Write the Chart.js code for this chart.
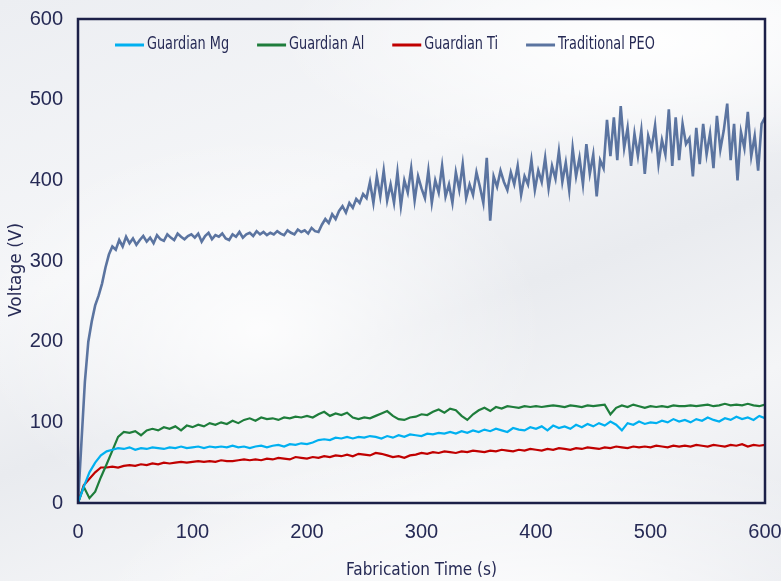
<!DOCTYPE html>
<html>
<head>
<meta charset="utf-8">
<script src="https://cdn.jsdelivr.net/npm/chart.js@4.4.1/dist/chart.umd.min.js"></script>
<style>
  html, body { margin: 0; padding: 0; overflow: hidden; }
  body {
    width: 781px; height: 581px;
    background:
      radial-gradient(ellipse 520px 180px at 640px 40px, rgba(255,255,255,0.95), rgba(255,255,255,0) 70%),
      radial-gradient(ellipse 620px 260px at 520px 620px, rgba(255,255,255,0.9), rgba(255,255,255,0) 70%),
      radial-gradient(ellipse 380px 260px at 260px 330px, rgba(255,255,255,0.85), rgba(255,255,255,0) 75%),
      linear-gradient(160deg, #eceef2 0%, #f5f6f8 35%, #e9ebef 55%, #f4f5f7 75%, #e6e8ed 100%);
  }
  #wrap { position: absolute; left: 0; top: 0; width: 781px; height: 581px; }
</style>
</head>
<body>
<div id="wrap"><canvas id="voltChart" width="781" height="581"></canvas></div>
<script>
// sampling times (s)
const guardianTime = [
  0,5,10,15,20,25,30,35,40,45,50,55,60,65,70,75,80,85,90,95,
  100,105,110,115,120,125,130,135,140,145,150,155,160,165,170,175,180,185,190,195,
  200,205,210,215,220,225,230,235,240,245,250,255,260,265,270,275,280,285,290,295,
  300,305,310,315,320,325,330,335,340,345,350,355,360,365,370,375,380,385,390,395,
  400,405,410,415,420,425,430,435,440,445,450,455,460,465,470,475,480,485,490,495,
  500,505,510,515,520,525,530,535,540,545,550,555,560,565,570,575,580,585,590,595,
  600
];

const guardianMg = [
  0,20,38,50,59,64,66,68,67,69,66,68,67,69,68,67,69,68,70,68,
  69,70,68,70,69,70,69,71,69,70,68,70,71,69,71,72,70,73,72,74,
  73,75,78,79,78,81,80,82,80,82,81,83,82,80,83,81,84,82,85,84,
  83,86,85,87,86,88,86,89,87,90,88,91,89,92,90,88,93,91,90,94,
  92,95,90,96,93,95,92,97,94,98,95,99,96,101,97,90,99,97,101,98,
  100,99,102,100,104,101,103,100,104,102,106,103,101,105,103,107,104,106,103,108,
  105
];

const guardianAl = [
  0,20,6,14,32,48,65,82,88,87,89,84,90,92,90,94,92,95,90,96,
  94,97,95,99,97,100,98,102,99,103,105,102,106,104,105,103,106,105,107,106,
  108,106,110,113,108,111,109,112,106,104,106,105,108,111,114,108,104,103,106,107,
  110,109,113,116,112,117,115,108,103,110,115,118,114,119,117,120,119,118,120,119,
  120,119,120,121,120,119,121,120,119,121,120,121,122,110,118,121,119,122,120,118,
  120,119,120,119,121,120,120,121,120,121,122,120,121,123,121,122,121,123,121,120,
  122
];

const guardianTi = [
  0,22,30,38,44,44,45,44,46,47,46,48,47,49,48,50,49,50,51,50,
  51,52,51,52,51,53,52,52,53,54,53,54,53,55,54,56,55,54,57,56,
  55,57,56,58,57,59,58,60,58,61,60,59,62,61,59,57,58,56,59,60,
  62,61,63,62,64,63,62,64,63,65,64,63,65,64,66,65,64,66,65,67,
  66,65,67,66,68,67,66,68,67,69,68,67,69,68,70,69,68,70,69,70,
  69,71,70,69,71,70,71,70,72,71,70,72,71,70,72,71,73,70,72,71,
  72
];

const peoTime = [
  0,3,6,9,12,15,18,21,24,27,30,33,36,39,42,45,48,51,54,57,
  60,63,66,69,72,75,78,81,84,87,90,93,96,99,102,105,108,111,114,117,
  120,123,126,129,132,135,138,141,144,147,150,153,156,159,162,165,168,171,174,177,
  180,183,186,189,192,195,198,201,204,207,210,213,216,219,222,225,228,231,234,237,
  240,243,246,249,252,255,258,261,264,267,270,273,276,279,282,285,288,291,294,297,
  300,303,306,309,312,315,318,321,324,327,330,333,336,339,342,345,348,351,354,357,
  360,363,366,369,372,375,378,381,384,387,390,393,396,399,402,405,408,411,414,417,
  420,423,426,429,432,435,438,441,444,447,450,453,456,459,462,465,468,471,474,477,
  480,483,486,489,492,495,498,501,504,507,510,513,516,519,522,525,528,531,534,537,
  540,543,546,549,552,555,558,561,564,567,570,573,576,579,582,585,588,591,594,597,
  600
];

const traditionalPEO = [
  0,75,150,200,225,245,257,272,292,308,318,314,326,318,330,322,328,320,326,331,
  324,329,322,332,327,325,333,329,326,334,330,327,331,333,329,334,324,331,335,327,
  332,330,334,328,326,333,330,336,329,333,335,331,337,333,336,332,335,333,337,334,
  332,338,335,333,339,336,338,334,341,337,336,345,352,347,358,352,362,368,360,372,
  366,377,372,383,378,398,372,405,380,412,375,395,372,410,368,400,385,415,375,405,
  390,378,412,372,400,385,418,380,395,372,410,388,420,378,395,382,410,392,372,428,
  350,405,392,412,398,388,410,395,418,382,405,395,425,388,412,398,428,390,418,402,
  436,398,422,388,440,405,428,395,445,408,432,380,425,415,475,430,478,425,492,440,
  465,418,458,430,462,408,455,440,468,420,450,432,488,418,478,425,470,445,452,405,
  465,420,470,432,458,415,480,438,462,495,425,470,400,460,440,485,430,455,412,470,
  478
];

const yTicks = [0, 100, 200, 300, 400, 500, 600];
const xTicks = [0, 100, 200, 300, 400, 500, 600];
const yTitle = 'Voltage (V)';

const navy = '#262a55';
const tickFont = { family: "'Liberation Sans', Arial, sans-serif", size: 20 };
const narrowFont = "'Liberation Sans Narrow', 'DejaVu Sans Condensed', sans-serif";

function points(times, values) {
  return times.map((t, i) => ({ x: t, y: values[i] }));
}

// frame around the plot, the y title and the in-plot legend
const framePlugin = {
  id: 'frame',
  afterDatasetsDraw(chart) {
    const { ctx, chartArea: a } = chart;
    ctx.save();
    ctx.strokeStyle = '#1c2048';
    ctx.lineWidth = 2.5;
    ctx.strokeRect(a.left, a.top, a.right - a.left, a.bottom - a.top);

    // y title sits a little below the middle in the original
    ctx.save();
    ctx.translate(17, (a.top + a.bottom) / 2 + 9);
    ctx.rotate(-Math.PI / 2);
    ctx.font = "17px 'DejaVu Sans', sans-serif";
    ctx.fillStyle = navy;
    ctx.textAlign = 'center';
    ctx.textBaseline = 'middle';
    ctx.fillText(yTitle, 0, 0);
    ctx.restore();

    // condensed look: squeeze the label text a bit
    const squeeze = 0.84;
    ctx.font = '17px ' + narrowFont;
    ctx.textBaseline = 'middle';
    let x = a.left + 37;
    const y = a.top + 26;
    chart.data.datasets.forEach(ds => {
      ctx.strokeStyle = ds.borderColor;
      ctx.lineWidth = 3;
      ctx.beginPath();
      ctx.moveTo(x, y);
      ctx.lineTo(x + 29, y);
      ctx.stroke();
      const w = ctx.measureText(ds.label).width * squeeze;
      ctx.save();
      ctx.translate(x + 32, y);
      ctx.scale(squeeze, 1);
      ctx.fillStyle = navy;
      ctx.fillText(ds.label, 0, 0);
      ctx.restore();
      x += 32 + w + 28;
    });
    ctx.restore();
  }
};

const ctx = document.getElementById('voltChart').getContext('2d');

new Chart(ctx, {
  type: 'line',
  data: {
    datasets: [
      { label: 'Guardian Mg', data: points(guardianTime, guardianMg), borderColor: '#00b0f0', borderWidth: 2.2 },
      { label: 'Guardian Al', data: points(guardianTime, guardianAl), borderColor: '#1e7d3b', borderWidth: 2.2 },
      { label: 'Guardian Ti', data: points(guardianTime, guardianTi), borderColor: '#c00000', borderWidth: 2.2 },
      { label: 'Traditional PEO', data: points(peoTime, traditionalPEO), borderColor: '#5b74a0', borderWidth: 2.6 }
    ]
  },
  options: {
    responsive: false,
    animation: false,
    devicePixelRatio: 1,
    elements: { point: { radius: 0 }, line: { tension: 0, fill: false } },
    layout: { padding: { top: 13, right: 0, left: 0, bottom: 0 } },
    plugins: { legend: { display: false }, tooltip: { enabled: false } },
    scales: {
      x: {
        type: 'linear',
        min: 0, max: 600,
        grid: { display: false },
        border: { display: false },
        afterBuildTicks: s => { s.ticks = xTicks.map(v => ({ value: v })); },
        afterFit: s => { s.height = 78; s.paddingRight = 16; s.paddingLeft = 0; },
        ticks: { color: navy, font: tickFont, padding: 9, maxRotation: 0 },
        title: { display: true, text: 'Fabrication Time (s)', color: navy,
                 font: { family: narrowFont, size: 17 }, padding: { top: 0, bottom: 0 } }
      },
      y: {
        min: 0, max: 600,
        grid: { display: false },
        border: { display: false },
        afterBuildTicks: s => { s.ticks = yTicks.map(v => ({ value: v })); },
        afterFit: s => { s.width = 78; },
        ticks: { color: navy, font: tickFont, padding: 7 }
      }
    }
  },
  plugins: [framePlugin]
});
</script>
</body>
</html>
